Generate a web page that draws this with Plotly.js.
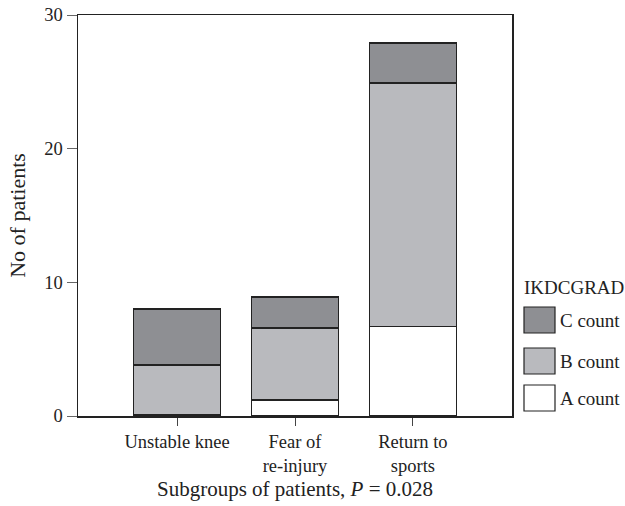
<!DOCTYPE html>
<html>
<head>
<meta charset="utf-8">
<script src="https://cdn.plot.ly/plotly-3.0.1.min.js"></script>
<style>html,body{margin:0;padding:0;background:#fff;}#chart{width:625px;height:506px;}</style>
</head>
<body>
<div id="chart"></div>
<script>
var categories = ["Unstable knee", "Fear of re-injury", "Return to sports"];
var tickLabels = ["Unstable knee", "Fear of<br>re-injury", "Return to<br>sports"];
var aCount = [0.1, 1.2, 6.7];
var bCount = [3.7, 5.4, 18.2];
var cCount = [4.2, 2.3, 3.0];
var seriesNames = ["A count", "B count", "C count"];
var seriesColors = ["#ffffff", "#b9babe", "#8e8f93"];
var yTicks = [0, 10, 20, 30];

var FONT = "Liberation Serif, Times New Roman, serif";
var line = {color: "#222", width: 1.5};
var traces = [aCount, bCount, cCount].map(function (vals, i) {
  return {
    type: "bar", x: categories, y: vals, name: seriesNames[i],
    marker: {color: seriesColors[i], line: line},
    width: 0.74, showlegend: false, hoverinfo: "x+y+name"
  };
});

function px2x(px) { return (px - 78) / 434; }
function px2y(py) { return (416 - py) / 401; }

var shapes = [], annotations = [];
annotations.push({xref: "paper", yref: "paper", x: px2x(522), y: px2y(287), xanchor: "left", yanchor: "middle",
  text: "IKDCGRAD", showarrow: false, font: {family: FONT, size: 19, color: "#222"}});
var legendRows = [[2, 307, 333], [1, 348, 374], [0, 385, 411]];
legendRows.forEach(function (r) {
  shapes.push({type: "rect", xref: "paper", yref: "paper", x0: px2x(524), x1: px2x(555), y0: px2y(r[2]), y1: px2y(r[1]),
    fillcolor: seriesColors[r[0]], line: {color: "#222", width: 1.2}});
  annotations.push({xref: "paper", yref: "paper", x: px2x(558), y: px2y((r[1] + r[2]) / 2), xanchor: "left", yanchor: "middle",
    text: seriesNames[r[0]], showarrow: false, font: {family: FONT, size: 19, color: "#222"}});
});

var layout = {
  width: 625, height: 506,
  margin: {l: 78, r: 113, t: 15, b: 90},
  paper_bgcolor: "#fff", plot_bgcolor: "#fff",
  barmode: "stack",
  font: {family: FONT, size: 18, color: "#222"},
  xaxis: {
    type: "category", range: [-0.84, 2.84],
    tickvals: categories, ticktext: tickLabels,
    ticks: "outside", ticklen: 8, tickcolor: "#444", tickwidth: 1,
    showline: true, linecolor: "#222", linewidth: 1.5, mirror: true,
    showgrid: false, zeroline: false,
    tickfont: {family: FONT, size: 18.5, color: "#222"},
    title: {text: "Subgroups of patients, <i>P</i> = 0.028", font: {family: FONT, size: 21, color: "#222"}, standoff: 6}
  },
  yaxis: {
    range: [0, 30], tickvals: yTicks,
    ticks: "outside", ticklen: 10, tickcolor: "#666", tickwidth: 1,
    showline: true, linecolor: "#222", linewidth: 1.5, mirror: true,
    showgrid: false, zeroline: false,
    tickfont: {family: FONT, size: 18.5, color: "#222"},
    title: {text: "No of patients", font: {family: FONT, size: 22, color: "#222"}, standoff: 12}
  },
  shapes: shapes,
  annotations: annotations
};

Plotly.newPlot("chart", traces, layout, {displayModeBar: false, staticPlot: true});
</script>
</body>
</html>
